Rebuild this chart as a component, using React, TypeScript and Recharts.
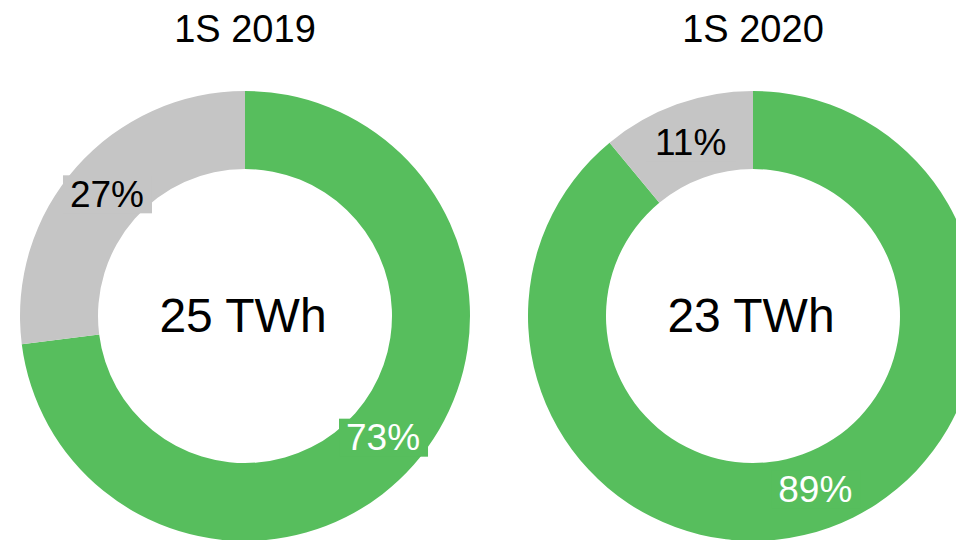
import { PieChart, Pie, Cell } from 'recharts';

const categories = ['Vert', 'Autre'];
const share2019 = [73, 27];
const share2020 = [89, 11];
const totalsTWh = [25, 23];
const titles = ['1S 2019', '1S 2020'];

const colors = ['#57BE5D', '#C5C5C5'];
const labelColors = ['#FFFFFF', '#000000'];

const toRows = (values: number[]) =>
    categories.map((name, i) => ({ name, value: values[i] }));

const data2019 = toRows(share2019);
const data2020 = toRows(share2020);

const RAD = Math.PI / 180;
const FONT = '"Liberation Sans", Arial, sans-serif';

function renderLabel(props: any) {
    const { cx, cy, midAngle, innerRadius, outerRadius, value, index } = props;
    const r = (innerRadius + outerRadius) / 2 - 2;
    const x = cx + r * Math.cos(-midAngle * RAD);
    const y = cy + r * Math.sin(-midAngle * RAD);
    return (
        <g key={`lbl-${index}`}>
            <rect x={x - 44} y={y - 19} width={89} height={38} fill={colors[index]} />
            <text
                x={x}
                y={y}
                fill={labelColors[index]}
                textAnchor="middle"
                dominantBaseline="central"
                fontFamily={FONT}
                fontSize={37}
            >
                {`${value}%`}
            </text>
        </g>
    );
}

const centers = [245, 753];
const centerY = 316;

export default function App() {
    const sets = [data2019, data2020];
    return (
        <div style={{ position: 'absolute', left: 0, top: 0, width: 956, height: 540, background: '#fff', overflow: 'hidden' }}>
            <PieChart
                width={956}
                height={540}
                margin={{ top: 0, right: 0, bottom: 0, left: 0 }}
                style={{ position: 'absolute', left: 0, top: 0 }}
            >
                {sets.map((d, i) => (
                    <Pie
                        key={titles[i]}
                        data={d}
                        dataKey="value"
                        nameKey="name"
                        cx={centers[i]}
                        cy={centerY}
                        innerRadius={147}
                        outerRadius={225}
                        startAngle={90}
                        endAngle={-270}
                        stroke="none"
                        labelLine={false}
                        label={renderLabel}
                        isAnimationActive={false}
                    >
                        {d.map((row, j) => (
                            <Cell key={row.name} fill={colors[j]} />
                        ))}
                    </Pie>
                ))}
            </PieChart>
            {titles.map((t, i) => (
                <div
                    key={t}
                    style={{
                        position: 'absolute',
                        left: centers[i] - 150,
                        width: 300,
                        top: 7,
                        textAlign: 'center',
                        fontFamily: FONT,
                        fontSize: 38,
                        color: '#000',
                        lineHeight: '44px',
                    }}
                >
                    {t}
                </div>
            ))}
            {totalsTWh.map((v, i) => (
                <div
                    key={`tot-${i}`}
                    style={{
                        position: 'absolute',
                        left: centers[i] - 152,
                        width: 300,
                        top: centerY - 28,
                        textAlign: 'center',
                        fontFamily: FONT,
                        fontSize: 48,
                        color: '#000',
                        lineHeight: '56px',
                    }}
                >
                    {`${v} TWh`}
                </div>
            ))}
        </div>
    );
}
